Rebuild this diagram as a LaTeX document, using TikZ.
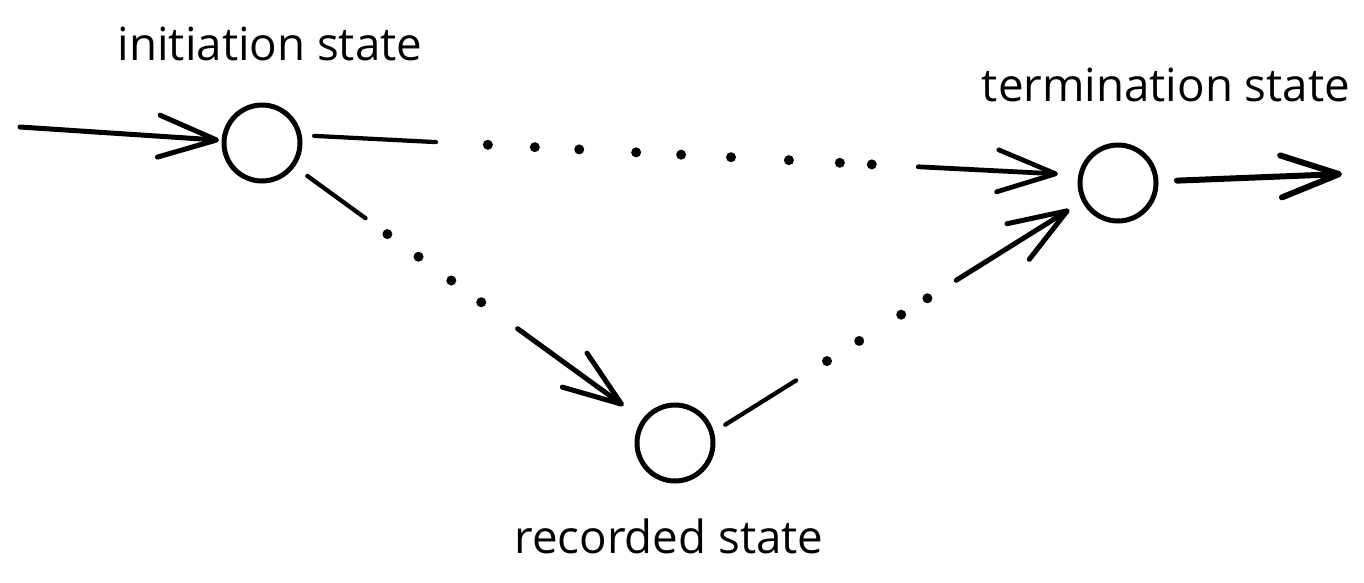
\documentclass[tikz,border=0pt]{standalone}
\usepackage{fontspec}
\setmainfont{Open Sans}
\usetikzlibrary{arrows.meta,calc}
\begin{document}
\begin{tikzpicture}[x=0.02cm,y=-0.02cm,
  state/.style={circle,draw,line width=0.1cm,minimum size=1.52cm,inner sep=0pt,outer sep=0pt},
  lbl/.style={font=\fontsize{26}{31}\selectfont,anchor=base,inner sep=0pt},
  seg/.style={line width=0.085cm,line cap=round},
  arr/.style={seg,-{Straight Barb[length=1.16cm,width=0.84cm,round]}},
]
\useasboundingbox (0,0) rectangle (1364,582);
\node[state] (i) at (262,143) {};
\node[state] (t) at (1118,183) {};
\node[state] (r) at (675,443) {};
\node[lbl] (li) at (270,60) {initiation state};
\node[lbl] (lt) at (1166,101) {termination state};
\node[lbl] (lr) at (669,553) {recorded state};
\coordinate (in) at (20,127);
\coordinate (out) at (1342,174);
% incoming and outgoing
\draw[arr,line width=0.1cm,shorten >=0.1cm] (in) -- (i);
\draw[arr,line width=0.12cm,shorten <=0.42cm] (t) -- (out);
% initiation -> termination
\coordinate (a1) at (i.12);
\coordinate (a2) at (t.168);
\draw[seg] ($(a1)!0.30cm!(a2)$) -- ($(a1)!2.74cm!(a2)$);
\foreach \d in {3.78,4.72,5.61,6.75,7.65,8.65,9.81,10.83,11.47}
  \fill ($(a1)!\d cm!(a2)$) circle (0.1cm);
\draw[arr,line width=0.095cm] ($(a1)!12.40cm!(a2)$) -- ($(a1)!15.20cm!(a2)$);
% initiation -> recorded
\draw[seg] ($(i)!1.12cm!(r)$) -- ($(i)!2.56cm!(r)$);
\foreach \d in {3.10,3.87,4.68,5.42}
  \fill ($(i)!\d cm!(r)$) circle (0.1cm);
\draw[arr,line width=0.1cm] ($(i)!6.32cm!(r)$) -- ($(i)!8.94cm!(r)$);
% recorded -> termination
\coordinate (b1) at (r.15);
\coordinate (b2) at (t.207);
\draw[seg] ($(b1)!0.32cm!(b2)$) -- ($(b1)!1.99cm!(b2)$);
\foreach \d in {2.72,3.48,4.47,5.09}
  \fill ($(b1)!\d cm!(b2)$) circle (0.1cm);
\draw[arr,line width=0.1cm] ($(b1)!5.77cm!(b2)$) -- ($(b1)!8.44cm!(b2)$);
\end{tikzpicture}
\end{document}
